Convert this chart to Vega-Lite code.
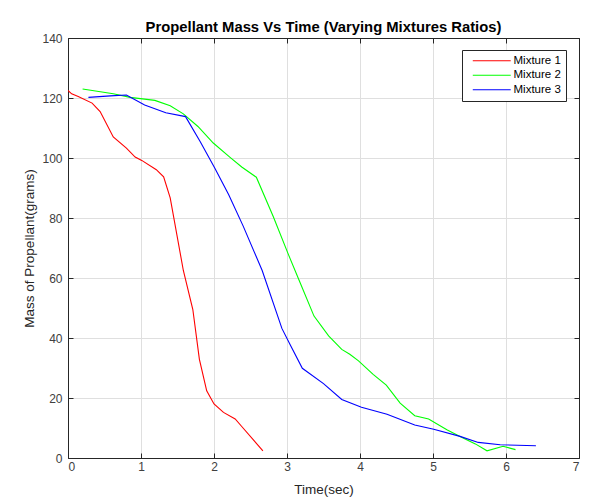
{
  "$schema": "https://vega.github.io/schema/vega-lite/v6.json",
  "width": 511,
  "height": 420,
  "autosize": {"type": "none"},
  "padding": {"left": 68, "top": 38, "right": 12, "bottom": 41},
  "background": "white",
  "title": {"text": "Propellant Mass Vs Time (Varying Mixtures Ratios)", "font": "Liberation Sans", "fontSize": 14.8, "fontWeight": "bold", "color": "#000000", "offset": -3, "anchor": "middle"},
  "data": {"values": [
    {"t": 0.0, "m": 122.5, "s": "Mixture 1"},
    {"t": 0.05, "m": 121.4, "s": "Mixture 1"},
    {"t": 0.14, "m": 120.5, "s": "Mixture 1"},
    {"t": 0.33, "m": 118.3, "s": "Mixture 1"},
    {"t": 0.44, "m": 115.5, "s": "Mixture 1"},
    {"t": 0.62, "m": 107.0, "s": "Mixture 1"},
    {"t": 0.80, "m": 103.3, "s": "Mixture 1"},
    {"t": 0.92, "m": 100.3, "s": "Mixture 1"},
    {"t": 1.01, "m": 99.2, "s": "Mixture 1"},
    {"t": 1.21, "m": 96.1, "s": "Mixture 1"},
    {"t": 1.31, "m": 93.7, "s": "Mixture 1"},
    {"t": 1.40, "m": 86.7, "s": "Mixture 1"},
    {"t": 1.58, "m": 62.5, "s": "Mixture 1"},
    {"t": 1.71, "m": 49.5, "s": "Mixture 1"},
    {"t": 1.80, "m": 32.9, "s": "Mixture 1"},
    {"t": 1.90, "m": 22.4, "s": "Mixture 1"},
    {"t": 2.00, "m": 18.0, "s": "Mixture 1"},
    {"t": 2.13, "m": 15.2, "s": "Mixture 1"},
    {"t": 2.29, "m": 13.0, "s": "Mixture 1"},
    {"t": 2.38, "m": 10.5, "s": "Mixture 1"},
    {"t": 2.67, "m": 2.4, "s": "Mixture 1"},
    {"t": 0.20, "m": 123.0, "s": "Mixture 2"},
    {"t": 0.62, "m": 121.4, "s": "Mixture 2"},
    {"t": 0.85, "m": 120.2, "s": "Mixture 2"},
    {"t": 1.19, "m": 119.2, "s": "Mixture 2"},
    {"t": 1.40, "m": 117.4, "s": "Mixture 2"},
    {"t": 1.58, "m": 114.7, "s": "Mixture 2"},
    {"t": 1.78, "m": 110.5, "s": "Mixture 2"},
    {"t": 1.99, "m": 105.0, "s": "Mixture 2"},
    {"t": 2.22, "m": 100.2, "s": "Mixture 2"},
    {"t": 2.38, "m": 97.0, "s": "Mixture 2"},
    {"t": 2.58, "m": 93.6, "s": "Mixture 2"},
    {"t": 2.81, "m": 80.6, "s": "Mixture 2"},
    {"t": 3.02, "m": 67.8, "s": "Mixture 2"},
    {"t": 3.18, "m": 58.4, "s": "Mixture 2"},
    {"t": 3.37, "m": 47.3, "s": "Mixture 2"},
    {"t": 3.57, "m": 40.7, "s": "Mixture 2"},
    {"t": 3.75, "m": 36.2, "s": "Mixture 2"},
    {"t": 3.86, "m": 34.6, "s": "Mixture 2"},
    {"t": 3.98, "m": 32.4, "s": "Mixture 2"},
    {"t": 4.18, "m": 27.9, "s": "Mixture 2"},
    {"t": 4.36, "m": 24.3, "s": "Mixture 2"},
    {"t": 4.55, "m": 18.3, "s": "Mixture 2"},
    {"t": 4.75, "m": 14.1, "s": "Mixture 2"},
    {"t": 4.94, "m": 13.0, "s": "Mixture 2"},
    {"t": 5.19, "m": 9.4, "s": "Mixture 2"},
    {"t": 5.37, "m": 7.2, "s": "Mixture 2"},
    {"t": 5.58, "m": 4.7, "s": "Mixture 2"},
    {"t": 5.74, "m": 2.4, "s": "Mixture 2"},
    {"t": 5.96, "m": 3.9, "s": "Mixture 2"},
    {"t": 6.13, "m": 2.8, "s": "Mixture 2"},
    {"t": 0.28, "m": 120.2, "s": "Mixture 3"},
    {"t": 0.58, "m": 120.7, "s": "Mixture 3"},
    {"t": 0.80, "m": 121.0, "s": "Mixture 3"},
    {"t": 1.05, "m": 117.7, "s": "Mixture 3"},
    {"t": 1.34, "m": 115.1, "s": "Mixture 3"},
    {"t": 1.61, "m": 113.8, "s": "Mixture 3"},
    {"t": 1.81, "m": 105.5, "s": "Mixture 3"},
    {"t": 2.01, "m": 96.7, "s": "Mixture 3"},
    {"t": 2.20, "m": 87.8, "s": "Mixture 3"},
    {"t": 2.40, "m": 77.3, "s": "Mixture 3"},
    {"t": 2.66, "m": 62.5, "s": "Mixture 3"},
    {"t": 2.93, "m": 43.2, "s": "Mixture 3"},
    {"t": 3.04, "m": 37.9, "s": "Mixture 3"},
    {"t": 3.21, "m": 29.9, "s": "Mixture 3"},
    {"t": 3.50, "m": 24.8, "s": "Mixture 3"},
    {"t": 3.75, "m": 19.5, "s": "Mixture 3"},
    {"t": 4.02, "m": 16.9, "s": "Mixture 3"},
    {"t": 4.37, "m": 14.6, "s": "Mixture 3"},
    {"t": 4.75, "m": 11.0, "s": "Mixture 3"},
    {"t": 5.01, "m": 9.6, "s": "Mixture 3"},
    {"t": 5.37, "m": 7.2, "s": "Mixture 3"},
    {"t": 5.62, "m": 5.2, "s": "Mixture 3"},
    {"t": 5.92, "m": 4.4, "s": "Mixture 3"},
    {"t": 6.41, "m": 4.1, "s": "Mixture 3"}
  ]},
  "layer": [
    {
      "mark": {"type": "line", "strokeWidth": 1.1, "clip": true},
      "encoding": {
        "x": {"field": "t", "type": "quantitative", "scale": {"domain": [0, 7], "nice": false, "zero": false},
              "axis": {"orient": "bottom", "values": [0, 1, 2, 3, 4, 5, 6, 7], "title": "Time(sec)", "grid": true, "labelPadding": 8, "titlePadding": 10}},
        "y": {"field": "m", "type": "quantitative", "scale": {"domain": [0, 140], "nice": false, "zero": false},
              "axis": {"orient": "left", "values": [0, 20, 40, 60, 80, 100, 120, 140], "title": "Mass of Propellant(grams)", "grid": true, "labelPadding": 11, "titlePadding": 5}},
        "color": {"field": "s", "type": "nominal",
                  "scale": {"domain": ["Mixture 1", "Mixture 2", "Mixture 3"], "range": ["#ff0000", "#00ff00", "#0000ff"]},
                  "legend": {"orient": "none", "legendX": 394, "legendY": 12, "title": null, "fillColor": "#ffffff", "strokeColor": "#262626", "padding": 5,
                             "symbolType": "M-6,0H6", "symbolSize": 40, "symbolStrokeWidth": 1.1, "symbolOffset": 19, "labelOffset": 16,
                             "labelExpr": "datum.label + '    '",
                             "labelFont": "Liberation Sans", "labelFontSize": 11.5, "labelColor": "#000000", "rowPadding": 1.5}}
      }
    },
    {
      "mark": {"type": "line", "opacity": 0},
      "encoding": {
        "x": {"field": "t", "type": "quantitative", "axis": {"orient": "top", "values": [0, 1, 2, 3, 4, 5, 6, 7], "labels": false, "grid": false, "title": null}},
        "y": {"field": "m", "type": "quantitative", "axis": {"orient": "right", "values": [0, 20, 40, 60, 80, 100, 120, 140], "labels": false, "grid": false, "title": null}},
        "detail": {"field": "s", "type": "nominal"}
      }
    }
  ],
  "resolve": {"axis": {"x": "independent", "y": "independent"}},
  "config": {
    "view": {"stroke": null},
    "axis": {
      "domainColor": "#262626", "domainWidth": 1,
      "tickColor": "#262626", "tickSize": -5, "tickWidth": 1,
      "gridColor": "#dfdfdf", "gridWidth": 1,
      "labelFont": "Liberation Sans", "labelFontSize": 12, "labelColor": "#404040",
      "titleFont": "Liberation Sans", "titleFontSize": 13.5, "titleFontWeight": "normal", "titleColor": "#262626"
    }
  }
}
